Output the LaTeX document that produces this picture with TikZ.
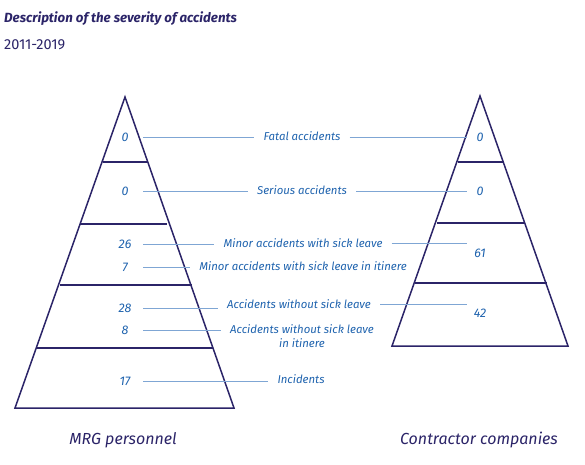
\documentclass[tikz,border=0pt]{standalone}
\usepackage{fontspec}
\setmainfont{Fira Sans}
\usepackage{tikz}
\usetikzlibrary{positioning, calc}
\definecolor{inkNavy}{HTML}{2B2468}
\definecolor{inkBlue}{HTML}{1F63AE}
\definecolor{leadBlue}{HTML}{7FA6D4}
\tikzset{
    pyrline/.style={draw=inkNavy, line width=1.5pt, line join=miter},
    bandline/.style={draw=inkNavy, line width=1.6pt},
    numlbl/.style={text=inkBlue, font=\fontsize{12.5}{14}\selectfont\itshape, minimum width=36pt, inner sep=0pt},
    numlblR/.style={numlbl, minimum width=26pt},
    catlbl/.style={text=inkBlue, font=\fontsize{11.4}{14}\selectfont\itshape, inner sep=9pt, align=center},
    leader/.style={draw=leadBlue, line width=0.6pt},
    grouplbl/.style={text=inkNavy, font=\fontsize{16}{18}\selectfont\itshape},
}

\begin{document}
\begin{tikzpicture}[x=1pt, y=-1pt]
\useasboundingbox (0,0) rectangle (585,464);

% title
\node[text=inkNavy, font=\fontsize{13.3}{16}\selectfont\bfseries\itshape, anchor=west, inner sep=0pt] (title) at (4,19) {Description of the severity of accidents};
\node[text=inkNavy, font=\fontsize{14.5}{16}\selectfont, anchor=west, inner sep=0pt] (years) at (4,45) {2011-2019};

% MRG pyramid
\draw[pyrline] (15,408) -- (125,97) -- (234,408) -- cycle;
\draw[bandline] (103,162) -- (148,162);
\draw[bandline] (80,224) -- (167,224);
\draw[bandline] (60,285) -- (192,285);
\draw[bandline] (37,348) -- (213,348);

% contractor pyramid
\draw[pyrline] (392,346) -- (480,96) -- (568,346) -- cycle;
\draw[bandline] (458,162) -- (503,162);
\draw[bandline] (437,223) -- (525,223);
\draw[bandline] (415,283) -- (547,283);

% figures, MRG
\node[numlbl] (mFatal) at (125,137) {0};
\node[numlbl] (mSerious) at (125,191) {0};
\node[numlbl] (mMinor) at (125,244) {26};
\node[numlbl] (mMinorIt) at (125,267) {7};
\node[numlbl] (mNoLeave) at (125,308) {28};
\node[numlbl] (mNoLeaveIt) at (125,330) {8};
\node[numlbl] (mIncid) at (125,381) {17};

% figures, contractors
\node[numlblR] (cFatal) at (480,137) {0};
\node[numlblR] (cSerious) at (480,191) {0};
\node[numlblR] (cMinor) at (480,253) {61};
\node[numlblR] (cNoLeave) at (480,313) {42};

% categories
\node[catlbl] (lFatal) at (302,136) {Fatal accidents};
\node[catlbl] (lSerious) at (302,190) {Serious accidents};
\node[catlbl] (lMinor) at (303,243) {Minor accidents with sick leave};
\node[catlbl] (lMinorIt) at (303,266) {Minor accidents with sick leave in itinere};
\node[catlbl] (lNoLeave) at (299,304) {Accidents without sick leave};
\node[catlbl] (lNoLeaveIt) at (302,336) {Accidents without sick leave\\in itinere};
\node[catlbl] (lIncid) at (301,379) {Incidents};

% leaders
\draw[leader] (mFatal.east) -- (mFatal.east -| lFatal.west);
\draw[leader] (lFatal.east |- cFatal.west) -- (cFatal.west);
\draw[leader] (mSerious.east) -- (mSerious.east -| lSerious.west);
\draw[leader] (lSerious.east |- cSerious.west) -- (cSerious.west);
\draw[leader] (mMinor.east) -- (mMinor.east -| lMinor.west);
\draw[leader] (lMinor.east) -- (lMinor.east -| cMinor.west);
\draw[leader] (mMinorIt.east) -- (mMinorIt.east -| lMinorIt.west);
\draw[leader] (mNoLeave.east) -- (mNoLeave.east -| lNoLeave.west);
\draw[leader] (lNoLeave.east) -- (lNoLeave.east -| cNoLeave.west);
\draw[leader] (mNoLeaveIt.east) -- (mNoLeaveIt.east -| lNoLeaveIt.west);
\draw[leader] (mIncid.east) -- (mIncid.east -| lIncid.west);

% groups
\node[grouplbl] (mrg) at (123,440) {MRG personnel};
\node[grouplbl] (contr) at (479,440) {Contractor companies};
\end{tikzpicture}
\end{document}
